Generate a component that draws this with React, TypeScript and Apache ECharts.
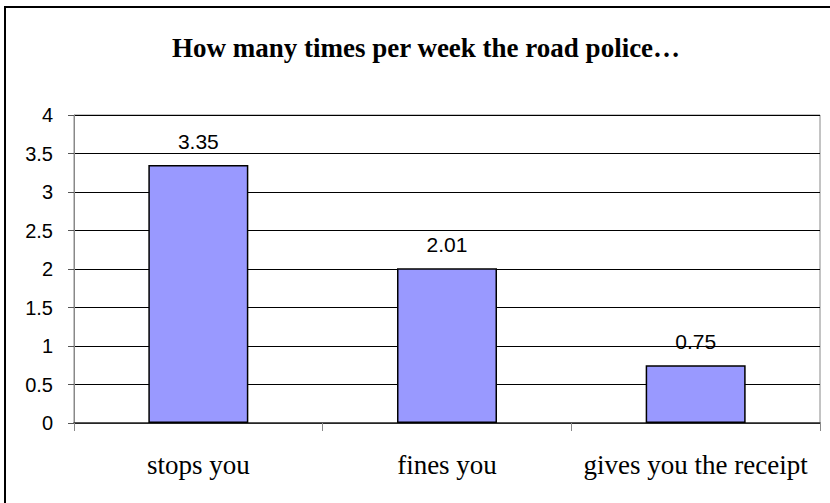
import React, { useEffect, useRef } from "react";
import * as echarts from "echarts";

const categories = ["stops you", "fines you", "gives you the receipt"];
const values = [3.35, 2.01, 0.75];
const titleText = "How many times per week the road police\u2026";

export default function App() {
  const ref = useRef<HTMLDivElement>(null);
  useEffect(() => {
    if (!ref.current) return;
    const chart = echarts.init(ref.current, null, { renderer: "svg" });
    chart.setOption({
      animation: false,
      backgroundColor: "#fff",
      title: {
        text: titleText,
        left: 421,
        top: 29,
        textAlign: "center",
        textStyle: { fontFamily: "Liberation Serif", fontSize: 27, fontWeight: "bold", color: "#000" },
      },
      graphic: [
        {
          type: "rect",
          shape: { x: 5, y: 7, width: 840, height: 520 },
          style: { fill: "none", stroke: "#000", lineWidth: 2 },
          silent: true,
        },
      ],
      grid: { left: 74, top: 115, right: 10, bottom: 80, show: true, borderColor: "#888", borderWidth: 1 },
      xAxis: {
        type: "category",
        data: categories,
        axisLine: { lineStyle: { color: "#333", width: 1.5 } },
        axisTick: { show: true, length: 8, interval: 0, lineStyle: { color: "#888" } },
        axisLabel: { fontFamily: "Liberation Serif", fontSize: 27, color: "#000", margin: 28, interval: 0 },
      },
      yAxis: {
        type: "value",
        min: 0,
        max: 4,
        interval: 0.5,
        axisLine: { show: true, lineStyle: { color: "#888" } },
        axisTick: { show: true, length: 6, lineStyle: { color: "#555" } },
        axisLabel: { fontFamily: "Liberation Sans", fontSize: 20, color: "#000", margin: 21 },
        splitLine: { show: true, lineStyle: { color: "#000", width: 1 } },
      },
      series: [
        {
          type: "bar",
          data: values,
          barWidth: 100,
          itemStyle: { color: "#9999ff", borderColor: "#000", borderWidth: 1.5 },
          label: {
            show: true,
            position: "top",
            distance: 13,
            fontFamily: "Liberation Sans",
            fontSize: 21,
            color: "#000",
          },
        },
      ],
    });
    return () => chart.dispose();
  }, []);
  return <div ref={ref} style={{ width: 830, height: 503, position: "absolute", left: 0, top: 0 }} />;
}
